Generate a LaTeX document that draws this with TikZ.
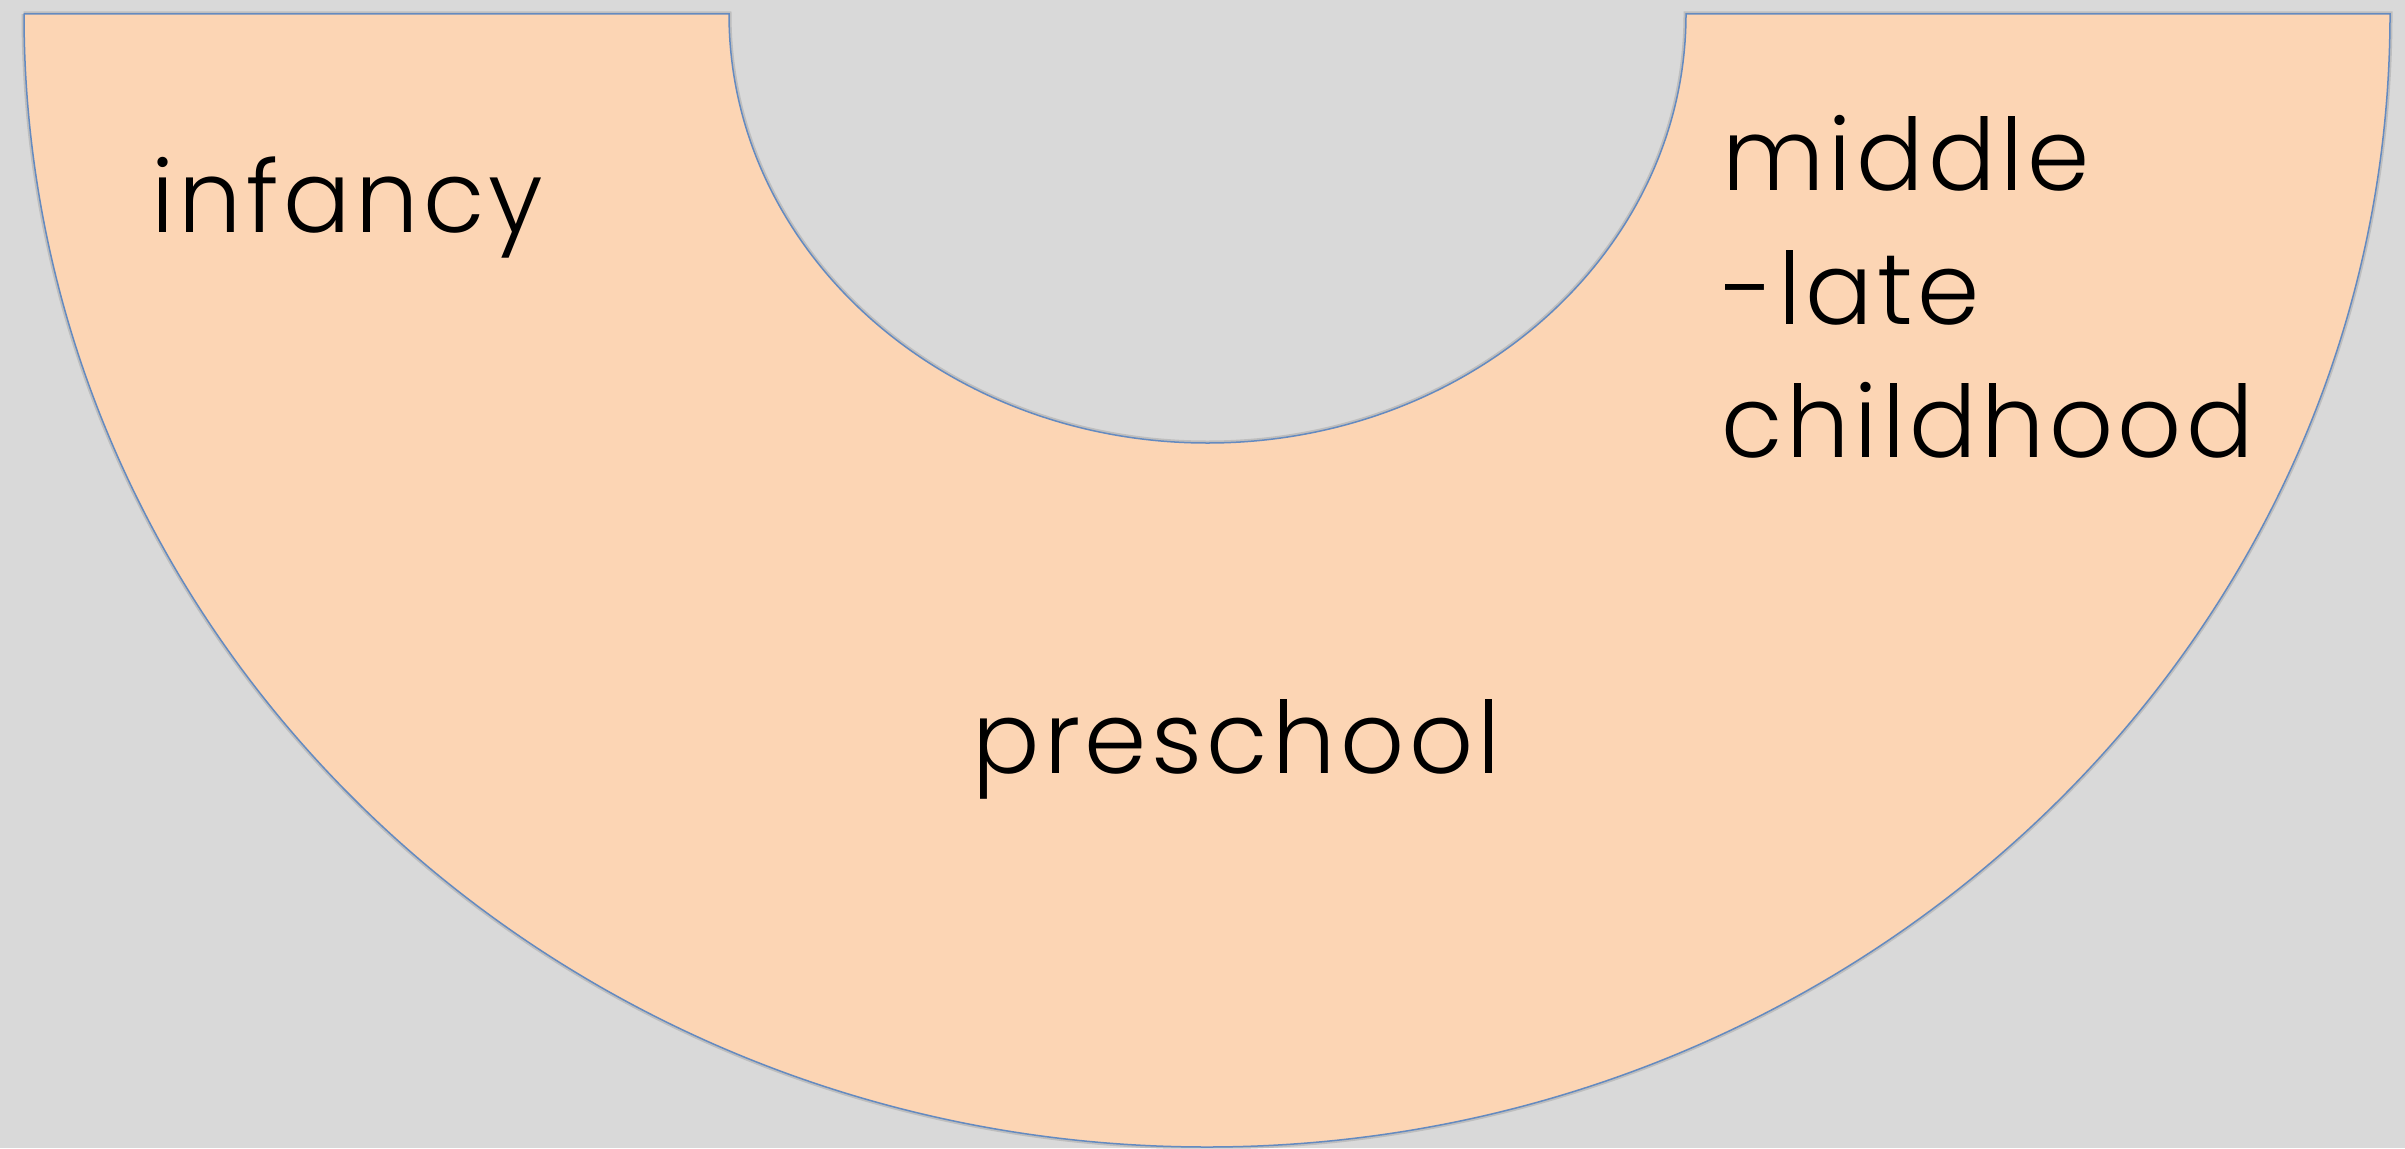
\documentclass[tikz,border=0pt]{standalone}
\usepackage{fontspec}
\setmainfont{Poppins Light}[LetterSpace=4.5]
\definecolor{bgc}{RGB}{217,217,217}
\definecolor{peach}{RGB}{252,213,180}
\definecolor{edge}{RGB}{100,138,192}
\tikzset{
  lbl/.style={anchor=base west, inner sep=0pt, outer sep=0pt, font=\fontsize{100}{120}\selectfont, text=black},
}
\begin{document}
\begin{tikzpicture}[x=1pt,y=-1pt]
\fill[bgc] (0,0) rectangle (2405,1148);
\useasboundingbox (0,0) rectangle (2405,1148);
% shadow
\draw[black!45, opacity=0.35, line width=5pt]
  (23.5,14) -- (729,14) arc[start angle=180, end angle=0, x radius=478.5, y radius=429]
  -- (2390,14) arc[start angle=0, end angle=180, x radius=1183, y radius=1133] -- cycle;
% block arc
\draw[fill=peach, draw=edge, line width=1.5pt]
  (23.5,14) -- (729,14) arc[start angle=180, end angle=0, x radius=478.5, y radius=429]
  -- (2390,14) arc[start angle=0, end angle=180, x radius=1183, y radius=1133] -- cycle;
\node[lbl] (infancy) at (151,232) {infancy};
\node[lbl] (preschool) at (972,773) {preschool};
\node[lbl] (mid1) at (1722,190) {middle};
\node[lbl] (mid2) at (1722,324) {-late};
\node[lbl] (mid3) at (1721,457) {childhood};
\end{tikzpicture}
\end{document}
